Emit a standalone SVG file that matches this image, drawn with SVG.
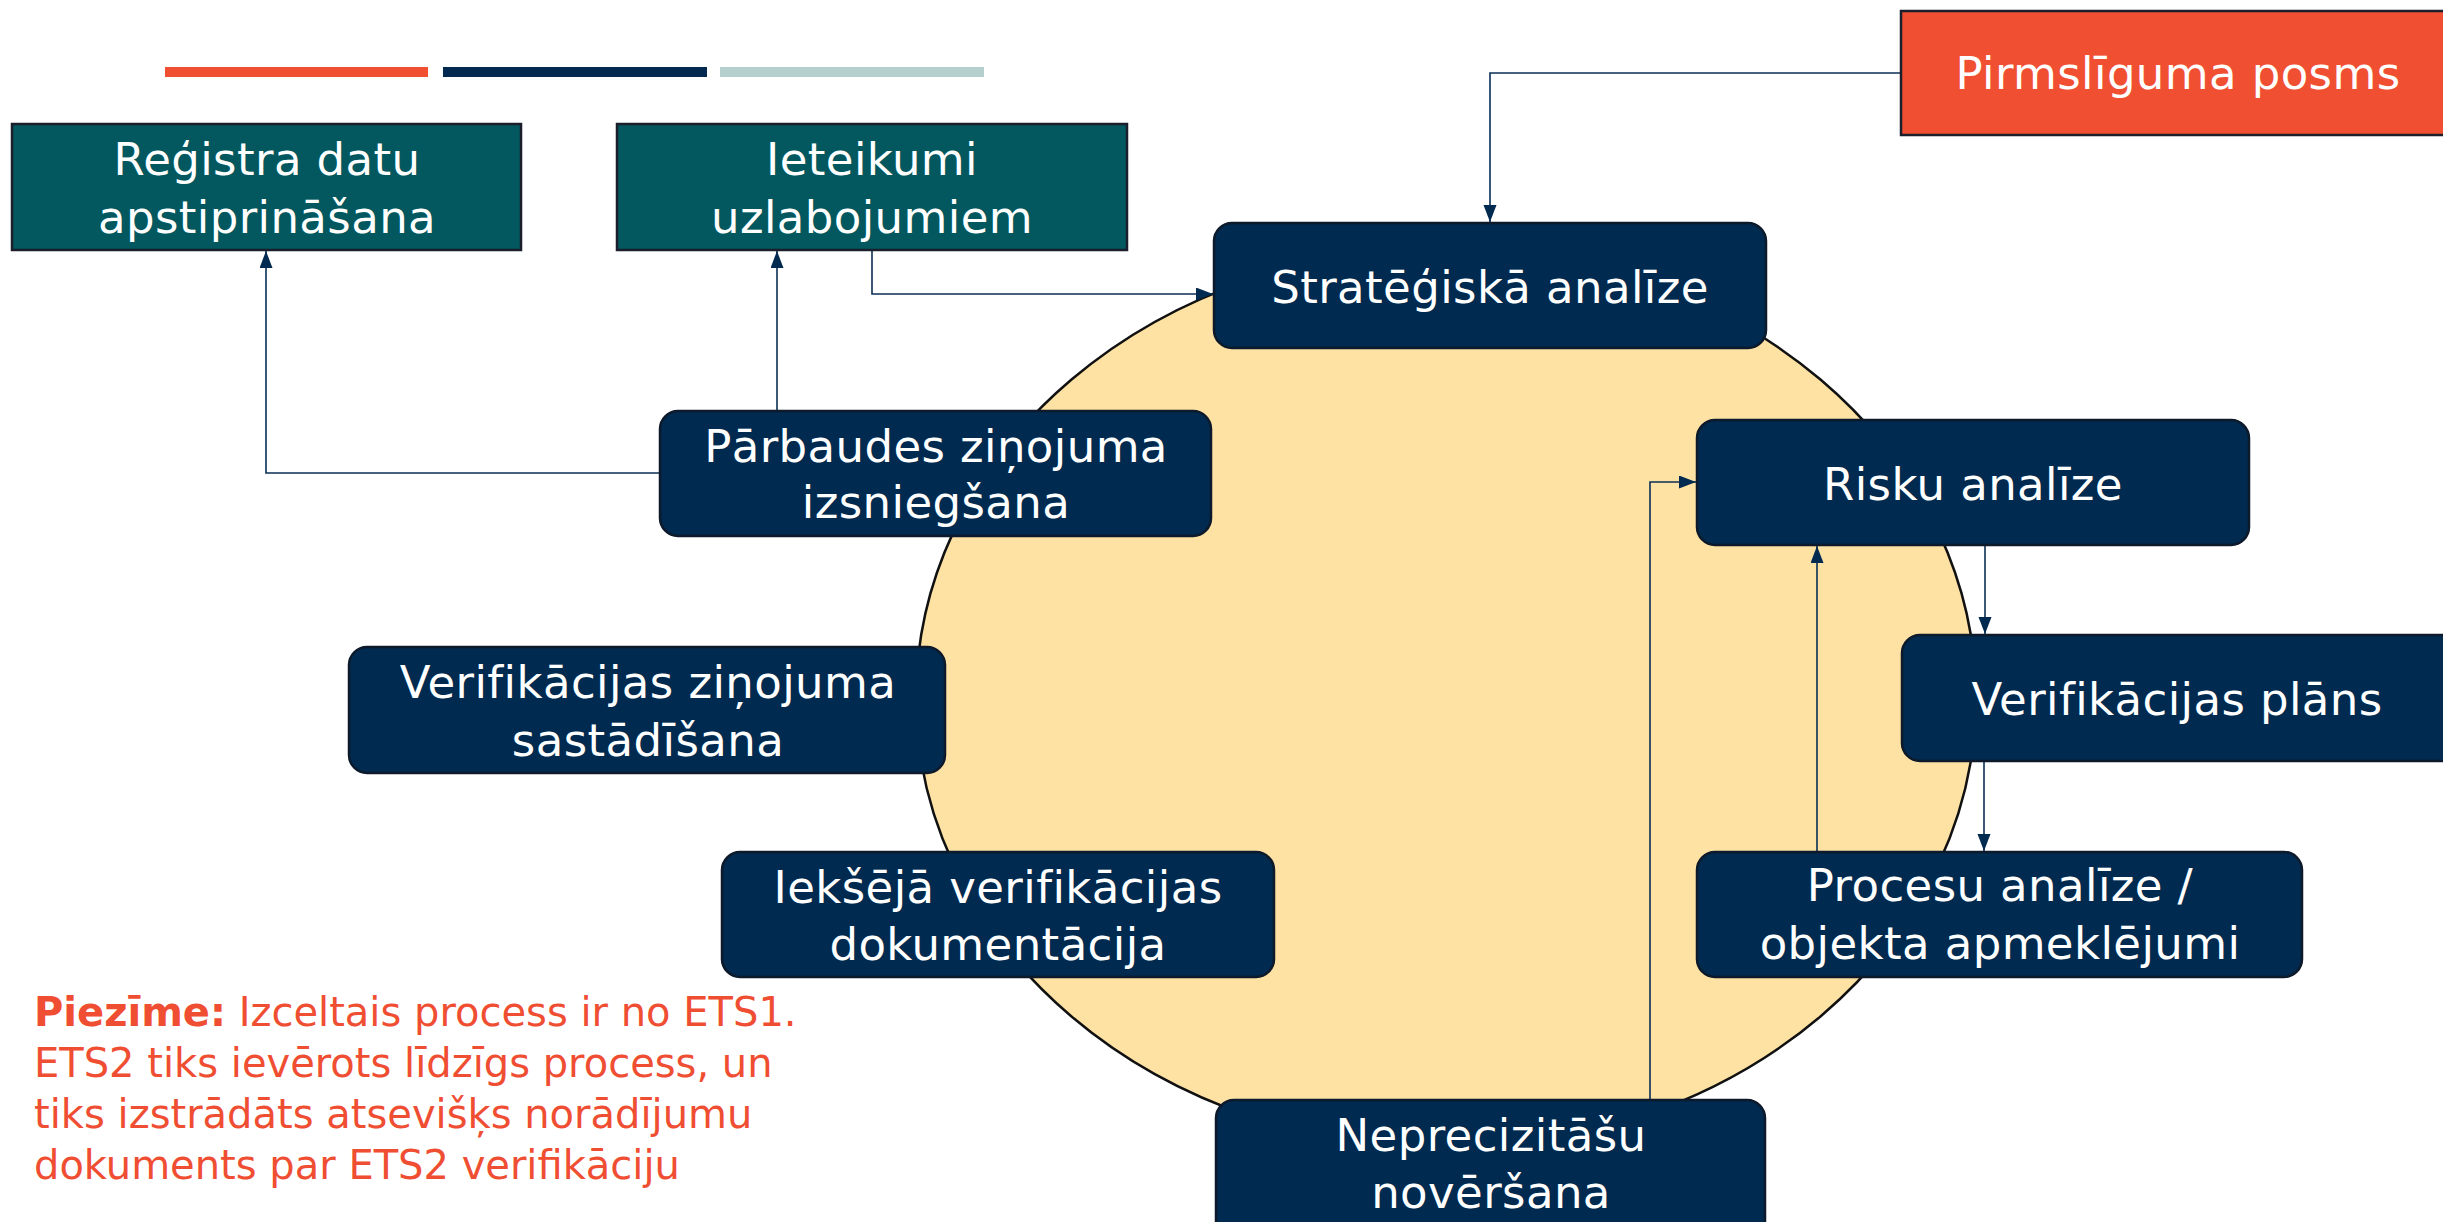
<svg xmlns="http://www.w3.org/2000/svg" width="2443" height="1222" viewBox="0 0 2443 1222">
<style>
.nb{fill:#002a4f;stroke:#0d1a2b;stroke-width:2.5}
.tb{fill:#02585e;stroke:#1a1f2b;stroke-width:2.5}
.ob{fill:#f04f32;stroke:#1a1f2b;stroke-width:2.5}
.t{font-family:"DejaVu Sans","Open Sans",sans-serif;font-size:45px;letter-spacing:0.4px;fill:#ffffff;text-anchor:middle}
.c{fill:none;stroke:#0b2f55;stroke-width:1.6}
.n{font-family:"DejaVu Sans","Open Sans",sans-serif;font-size:40px;fill:#f04e32}
</style>
<defs>
<marker id="ah" markerUnits="userSpaceOnUse" markerWidth="18" markerHeight="14" refX="17" refY="6.5" orient="auto">
<path d="M0,0 L17,6.5 L0,13 z" fill="#002a4f"/>
</marker>
</defs>
<rect width="2443" height="1222" fill="#ffffff"/>
<g id="bars">
<rect x="165" y="67" width="263" height="10" fill="#f04f32"/>
<rect x="443" y="67" width="264" height="10" fill="#002a4f"/>
<rect x="720" y="67" width="264" height="10" fill="#b4cfce"/>
</g>
<ellipse id="cycle" cx="1446" cy="698" rx="530" ry="450" fill="#fde2a4" stroke="#111" stroke-width="2.5"/>
<g id="connectors">
<path class="c" d="M1901,73 H1490 V222" marker-end="url(#ah)"/>
<path class="c" d="M872,250 V294 H1213" marker-end="url(#ah)"/>
<path class="c" d="M660,473 H266 V251" marker-end="url(#ah)"/>
<path class="c" d="M777,411 V251" marker-end="url(#ah)"/>
<path class="c" d="M1650,1100 V482 H1696" marker-end="url(#ah)"/>
<path class="c" d="M1817,852 V546" marker-end="url(#ah)"/>
<path class="c" d="M1985,545 V634" marker-end="url(#ah)"/>
<path class="c" d="M1984,761 V851" marker-end="url(#ah)"/>
</g>
<g id="pirmsliguma">
<rect class="ob" x="1901" y="11" width="560" height="124"/>
<text class="t" x="2178" y="89">Pirmslīguma posms</text>
</g>
<g id="registra">
<rect class="tb" x="12" y="124" width="509" height="126"/>
<text class="t" x="267" y="175">Reģistra datu<tspan x="267" dy="58">apstiprināšana</tspan></text>
</g>
<g id="ieteikumi">
<rect class="tb" x="617" y="124" width="510" height="126"/>
<text class="t" x="872" y="175">Ieteikumi<tspan x="872" dy="58">uzlabojumiem</tspan></text>
</g>
<g id="strategiska">
<rect class="nb" x="1214" y="223" width="552" height="125" rx="18"/>
<text class="t" x="1490" y="303">Stratēģiskā analīze</text>
</g>
<g id="parbaudes">
<rect class="nb" x="660" y="411" width="551" height="125" rx="18"/>
<text class="t" x="936" y="462">Pārbaudes ziņojuma<tspan x="936" dy="56">izsniegšana</tspan></text>
</g>
<g id="risku">
<rect class="nb" x="1697" y="420" width="552" height="125" rx="18"/>
<text class="t" x="1973" y="500">Risku analīze</text>
</g>
<g id="verif-plans">
<rect class="nb" x="1902" y="635" width="560" height="126" rx="18"/>
<text class="t" x="2177" y="715">Verifikācijas plāns</text>
</g>
<g id="procesu">
<rect class="nb" x="1697" y="852" width="605" height="125" rx="18"/>
<text class="t" x="2000" y="901">Procesu analīze /<tspan x="2000" dy="58">objekta apmeklējumi</tspan></text>
</g>
<g id="verif-zinojuma">
<rect class="nb" x="349" y="647" width="596" height="126" rx="18"/>
<text class="t" x="648" y="698">Verifikācijas ziņojuma<tspan x="648" dy="58">sastādīšana</tspan></text>
</g>
<g id="ieksejā">
<rect class="nb" x="722" y="852" width="552" height="125" rx="18"/>
<text class="t" x="998" y="903">Iekšējā verifikācijas<tspan x="998" dy="57">dokumentācija</tspan></text>
</g>
<g id="neprecizitasu">
<rect class="nb" x="1216" y="1100" width="549" height="140" rx="18"/>
<text class="t" x="1491" y="1151">Neprecizitāšu<tspan x="1491" dy="57">novēršana</tspan></text>
</g>
<g id="note">
<text class="n" x="34" y="1026"><tspan font-weight="bold">Piezīme:</tspan> Izceltais process ir no ETS1.<tspan x="34" dy="51">ETS2 tiks ievērots līdzīgs process, un</tspan><tspan x="34" dy="51">tiks izstrādāts atsevišķs norādījumu</tspan><tspan x="34" dy="51">dokuments par ETS2 verifikāciju</tspan></text>
</g>
</svg>
